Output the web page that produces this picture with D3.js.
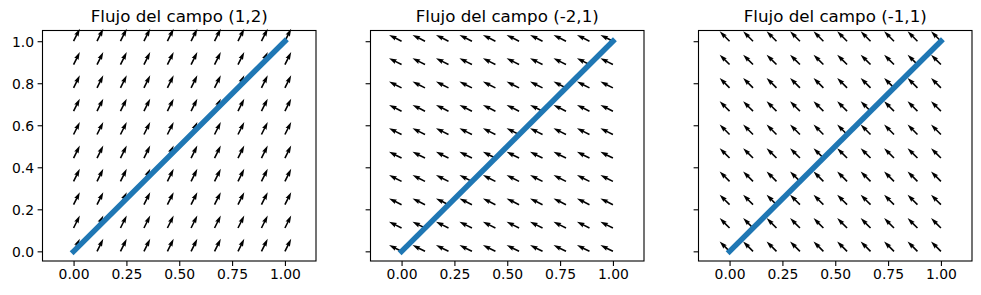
<!DOCTYPE html>
<html lang="en">
<head>
<meta charset="UTF-8">
<title>Flujo del campo</title>
<style>
  body { margin: 0; background: #fff; }
  svg text { font-family: "DejaVu Sans", sans-serif; fill: #000; }
</style>
</head>
<body>
<svg id="chart" width="981" height="295"></svg>
<script src="https://d3js.org/d3.v7.min.js"></script>
<script>

// data
var titles = ["Flujo del campo (1,2)", "Flujo del campo (-2,1)", "Flujo del campo (-1,1)"];
var fields = [[1, 2], [-2, 1], [-1, 1]];
var gridVals = [0, 0.111, 0.222, 0.333, 0.444, 0.556, 0.667, 0.778, 0.889, 1.0];
var lineX = [0, 1];
var lineY = [0, 1];
var xTicks = [0, 0.25, 0.5, 0.75, 1.0];
var yTicks = [0, 0.2, 0.4, 0.6, 0.8, 1.0];
var xDomain = [-0.147, 1.147];
var yDomain = [-0.046, 1.051];

var svg = d3.select("#chart");
var panelLeft = [42.5, 370.5, 698.5],
    panelW = 273.5,
    plotTop = 30.5,
    plotBottom = 261;

// quiver arrow sizes (px)
var arrowLen = 14, shaftW = 1.6, headW = 4.8, headL = 7.8, headAxL = 7;

function arrowPath(x0, y0, u, v) {
  var m = Math.sqrt(u * u + v * v);
  var dx = u / m, dy = -v / m;     // screen direction
  var nx = -dy, ny = dx;           // normal
  var pts = [
    [0, shaftW / 2], [arrowLen - headAxL, shaftW / 2], [arrowLen - headL, headW / 2],
    [arrowLen, 0],
    [arrowLen - headL, -headW / 2], [arrowLen - headAxL, -shaftW / 2], [0, -shaftW / 2]
  ];
  return "M" + pts.map(function (p) {
    return (x0 + p[0] * dx + p[1] * nx) + "," + (y0 + p[0] * dy + p[1] * ny);
  }).join("L") + "Z";
}

titles.forEach(function (title, i) {
  var x = d3.scaleLinear().domain(xDomain).range([panelLeft[i], panelLeft[i] + panelW]);
  var y = d3.scaleLinear().domain(yDomain).range([plotBottom, plotTop]);
  var g = svg.append("g");

  // arrows
  var pts = [];
  gridVals.forEach(function (gx) {
    gridVals.forEach(function (gy) { pts.push([gx, gy]); });
  });
  g.append("g").selectAll("path").data(pts).join("path")
    .attr("d", function (d) { return arrowPath(x(d[0]), y(d[1]), fields[i][0], fields[i][1]); })
    .attr("fill", "#000");

  // diagonal line
  var line = d3.line().x(function (d) { return x(d[0]); }).y(function (d) { return y(d[1]); });
  g.append("path")
    .datum(lineX.map(function (v, k) { return [v, lineY[k]]; }))
    .attr("d", line)
    .attr("fill", "none")
    .attr("stroke", "#1f77b4")
    .attr("stroke-width", 5.5)
    .attr("stroke-linecap", "square");

  // axes
  var xAxis = d3.axisBottom(x).tickValues(xTicks).tickSize(4.9).tickPadding(3.5)
    .tickFormat(d3.format(".2f"));
  var yAxis = d3.axisLeft(y).tickValues(yTicks).tickSize(4.9).tickPadding(3.5)
    .tickFormat(i === 0 ? d3.format(".1f") : function () { return ""; });

  var xa = g.append("g").attr("transform", "translate(0," + plotBottom + ")").call(xAxis);
  var ya = g.append("g").attr("transform", "translate(" + panelLeft[i] + ",0)").call(yAxis);
  [xa, ya].forEach(function (a) {
    a.select(".domain").remove();
    a.selectAll("line").attr("stroke", "#000").attr("stroke-width", 1.1);
    a.selectAll("text").attr("font-size", "13.9px").attr("fill", "#000");
  });
  ya.selectAll("text").attr("dy", "0.35em");

  // frame
  g.append("rect")
    .attr("x", panelLeft[i]).attr("y", plotTop)
    .attr("width", panelW).attr("height", plotBottom - plotTop)
    .attr("fill", "none").attr("stroke", "#000").attr("stroke-width", 1.1);

  g.append("text")
    .attr("x", panelLeft[i] + panelW / 2).attr("y", 22)
    .attr("text-anchor", "middle")
    .attr("font-size", "16.7px")
    .text(title);
});
</script>
</body>
</html>
